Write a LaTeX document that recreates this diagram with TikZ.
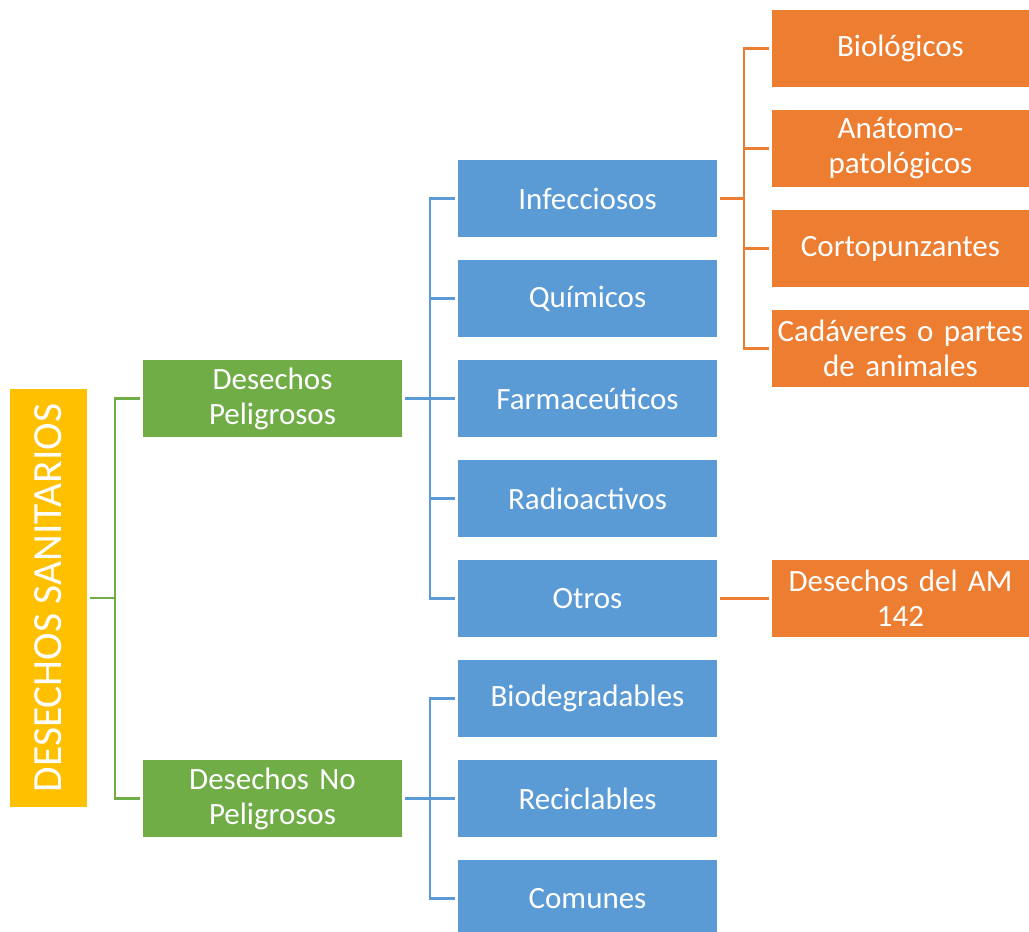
\documentclass[tikz,border=0pt]{standalone}
\usepackage{fontspec}
\setmainfont{Carlito}
\definecolor{cyellow}{HTML}{FFC000}
\definecolor{cgreen}{HTML}{70AD47}
\definecolor{cblue}{HTML}{5B9BD5}
\definecolor{corange}{HTML}{ED7D31}
\tikzset{
  box/.style={rectangle, inner sep=0pt, align=center, text=white,
    font=\fontsize{31}{35}\selectfont, minimum height=77pt},
  rootbox/.style={box, fill=cyellow, rotate=90, minimum width=418pt,
    font=\fontsize{41.5}{48}\selectfont},
  greenbox/.style={box, fill=cgreen, minimum width=259pt, text width=257pt},
  bluebox/.style={box, fill=cblue, minimum width=259pt, text width=257pt},
  orangebox/.style={box, fill=corange, minimum width=257pt, text width=257pt},
  gl/.style={draw=cgreen, line width=2.5pt},
  bl/.style={draw=cblue, line width=2.5pt},
  ol/.style={draw=corange, line width=2.5pt}
}
\begin{document}
\begin{tikzpicture}[x=1pt,y=-1pt]
\useasboundingbox (0,0) rectangle (1029,932);
\begin{scope}
\clip (0,0) rectangle (1029,932);
% root
\node[rootbox] (root) at (48.5,598) {DESECHOS SANITARIOS};
% second level
\node[greenbox] (dp) at (272.5,398.5) {Desechos\\Peligrosos};
\node[greenbox] (dnp) at (272.5,798.5) {Desechos No\\Peligrosos};
% third level
\node[bluebox] (inf) at (587.5,198.5) {Infecciosos};
\node[bluebox] (qui) at (587.5,298.5) {Químicos};
\node[bluebox] (far) at (587.5,398.5) {Farmaceúticos};
\node[bluebox] (rad) at (587.5,498.5) {Radioactivos};
\node[bluebox] (otr) at (587.5,598.5) {Otros};
\node[bluebox] (bio) at (587.5,698.5) {Biodegradables};
\node[bluebox] (rec) at (587.5,798.5) {Reciclables};
\node[bluebox] (com) at (587.5,898.5) {Comunes};
% fourth level
\node[orangebox] (biol) at (900.5,48.5) {Biológicos};
\node[orangebox] (ana) at (900.5,148.5) {Anátomo-\\patológicos};
\node[orangebox] (cor) at (900.5,248.5) {Cortopunzantes};
\node[orangebox] (cad) at (900.5,348.5) {Cadáveres o partes\\de animales};
\node[orangebox] (am) at (900.5,598.5) {Desechos del AM\\142};
% junction points
\coordinate (j1) at (115,598);
\coordinate (j2) at (430,398.5);
\coordinate (j3) at (430,798.5);
\coordinate (j4) at (744,198.5);
% connectors
\draw[gl] ([xshift=3pt]root.south) -- (j1);
\draw[gl] (j1) |- ([xshift=-3pt]dp.west);
\draw[gl] (j1) |- ([xshift=-3pt]dnp.west);
\draw[bl] ([xshift=3pt]dp.east) -- (j2);
\foreach \n in {inf,qui,far,rad,otr}
  \draw[bl] (j2) |- ([xshift=-3pt]\n.west);
\draw[bl] ([xshift=3pt]dnp.east) -- (j3);
\foreach \n in {bio,rec,com}
  \draw[bl] (j3) |- ([xshift=-3pt]\n.west);
\draw[ol] ([xshift=3pt]inf.east) -- (j4);
\foreach \n in {biol,ana,cor,cad}
  \draw[ol] (j4) |- ([xshift=-3pt]\n.west);
\draw[ol] ([xshift=3pt]otr.east) -- ([xshift=-3pt]am.west);
\end{scope}
\end{tikzpicture}
\end{document}
